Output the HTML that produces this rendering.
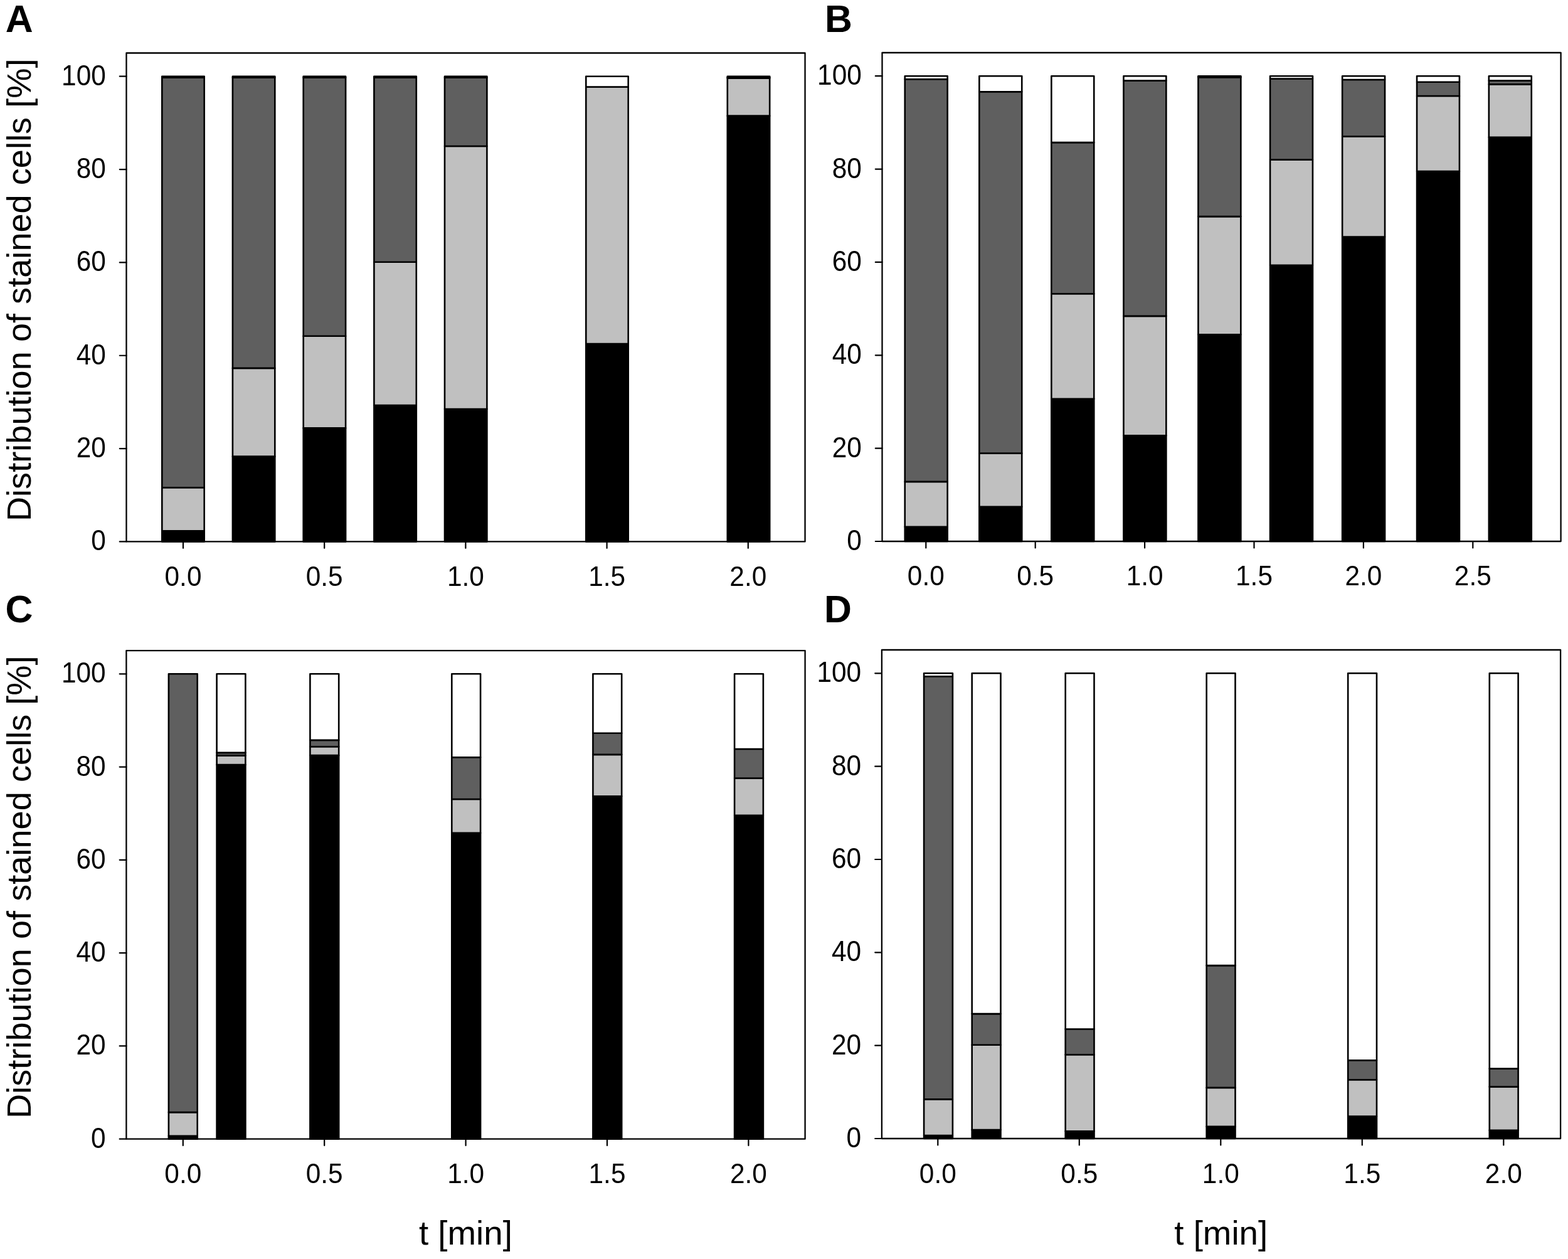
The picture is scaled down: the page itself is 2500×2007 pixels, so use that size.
<!DOCTYPE html><html><head><meta charset="utf-8"><style>html,body{margin:0;padding:0;background:#fff}svg{display:block}rect{stroke-linejoin:round}line{stroke-linecap:round}text{font-family:'Liberation Sans', Arial, sans-serif}</style></head><body>
<svg width="2500" height="2007" viewBox="0 0 2500 2007">
<rect width="2500" height="2007" fill="#fff"/>
<g>
<rect x="258.3" y="846.36" width="67.4" height="17.1" fill="#000" stroke="#000" stroke-width="2.6"/>
<rect x="258.3" y="777.18" width="67.4" height="69.17" fill="#c0c0c0" stroke="#000" stroke-width="2.6"/>
<rect x="258.3" y="123.65" width="67.4" height="653.53" fill="#5f5f5f" stroke="#000" stroke-width="2.6"/>
<rect x="258.3" y="121.7" width="67.4" height="1.95" fill="#fff" stroke="#000" stroke-width="2.6"/>
<rect x="370.9" y="727.67" width="67.4" height="135.78" fill="#000" stroke="#000" stroke-width="2.6"/>
<rect x="370.9" y="586.91" width="67.4" height="140.76" fill="#c0c0c0" stroke="#000" stroke-width="2.6"/>
<rect x="370.9" y="123.65" width="67.4" height="463.25" fill="#5f5f5f" stroke="#000" stroke-width="2.6"/>
<rect x="370.9" y="121.7" width="67.4" height="1.95" fill="#fff" stroke="#000" stroke-width="2.6"/>
<rect x="483.7" y="682.42" width="67.4" height="181.03" fill="#000" stroke="#000" stroke-width="2.6"/>
<rect x="483.7" y="535.72" width="67.4" height="146.69" fill="#c0c0c0" stroke="#000" stroke-width="2.6"/>
<rect x="483.7" y="123.65" width="67.4" height="412.07" fill="#5f5f5f" stroke="#000" stroke-width="2.6"/>
<rect x="483.7" y="121.7" width="67.4" height="1.95" fill="#fff" stroke="#000" stroke-width="2.6"/>
<rect x="596.4" y="646.07" width="67.4" height="217.38" fill="#000" stroke="#000" stroke-width="2.6"/>
<rect x="596.4" y="417.78" width="67.4" height="228.29" fill="#c0c0c0" stroke="#000" stroke-width="2.6"/>
<rect x="596.4" y="123.65" width="67.4" height="294.12" fill="#5f5f5f" stroke="#000" stroke-width="2.6"/>
<rect x="596.4" y="121.7" width="67.4" height="1.95" fill="#fff" stroke="#000" stroke-width="2.6"/>
<rect x="709" y="652" width="67.4" height="211.45" fill="#000" stroke="#000" stroke-width="2.6"/>
<rect x="709" y="233.07" width="67.4" height="418.93" fill="#c0c0c0" stroke="#000" stroke-width="2.6"/>
<rect x="709" y="123.65" width="67.4" height="109.42" fill="#5f5f5f" stroke="#000" stroke-width="2.6"/>
<rect x="709" y="121.7" width="67.4" height="1.95" fill="#fff" stroke="#000" stroke-width="2.6"/>
<rect x="934.3" y="548.15" width="67.4" height="315.3" fill="#000" stroke="#000" stroke-width="2.6"/>
<rect x="934.3" y="138.49" width="67.4" height="409.66" fill="#c0c0c0" stroke="#000" stroke-width="2.6"/>
<rect x="934.3" y="121.7" width="67.4" height="16.79" fill="#fff" stroke="#000" stroke-width="2.6"/>
<rect x="1159.8" y="184.67" width="67.4" height="678.78" fill="#000" stroke="#000" stroke-width="2.6"/>
<rect x="1159.8" y="124.77" width="67.4" height="59.9" fill="#c0c0c0" stroke="#000" stroke-width="2.6"/>
<rect x="1159.8" y="123.28" width="67.4" height="1.48" fill="#5f5f5f" stroke="#000" stroke-width="2.6"/>
<rect x="1159.8" y="121.7" width="67.4" height="1.58" fill="#fff" stroke="#000" stroke-width="2.6"/>
<rect x="201.5" y="84.5" width="1082.05" height="778.95" fill="none" stroke="#000" stroke-width="2.3" stroke-linejoin="round"/>
<line x1="190.8" y1="863.45" x2="201.5" y2="863.45" stroke="#000" stroke-width="2.2"/>
<text transform="translate(168.8,877.45) scale(1,1.07)" font-size="42.4" text-anchor="end">0</text>
<line x1="190.8" y1="715.1" x2="201.5" y2="715.1" stroke="#000" stroke-width="2.2"/>
<text transform="translate(168.8,729.1) scale(1,1.07)" font-size="42.4" text-anchor="end">20</text>
<line x1="190.8" y1="566.75" x2="201.5" y2="566.75" stroke="#000" stroke-width="2.2"/>
<text transform="translate(168.8,580.75) scale(1,1.07)" font-size="42.4" text-anchor="end">40</text>
<line x1="190.8" y1="418.4" x2="201.5" y2="418.4" stroke="#000" stroke-width="2.2"/>
<text transform="translate(168.8,432.4) scale(1,1.07)" font-size="42.4" text-anchor="end">60</text>
<line x1="190.8" y1="270.05" x2="201.5" y2="270.05" stroke="#000" stroke-width="2.2"/>
<text transform="translate(168.8,284.05) scale(1,1.07)" font-size="42.4" text-anchor="end">80</text>
<line x1="190.8" y1="121.7" x2="201.5" y2="121.7" stroke="#000" stroke-width="2.2"/>
<text transform="translate(168.8,135.7) scale(1,1.07)" font-size="42.4" text-anchor="end">100</text>
<line x1="292" y1="863.45" x2="292" y2="873.85" stroke="#000" stroke-width="2.2"/>
<text transform="translate(292,934.05) scale(1,1.045)" font-size="42.4" text-anchor="middle">0.0</text>
<line x1="517.2" y1="863.45" x2="517.2" y2="873.85" stroke="#000" stroke-width="2.2"/>
<text transform="translate(517.2,934.05) scale(1,1.045)" font-size="42.4" text-anchor="middle">0.5</text>
<line x1="742.4" y1="863.45" x2="742.4" y2="873.85" stroke="#000" stroke-width="2.2"/>
<text transform="translate(742.4,934.05) scale(1,1.045)" font-size="42.4" text-anchor="middle">1.0</text>
<line x1="967.6" y1="863.45" x2="967.6" y2="873.85" stroke="#000" stroke-width="2.2"/>
<text transform="translate(967.6,934.05) scale(1,1.045)" font-size="42.4" text-anchor="middle">1.5</text>
<line x1="1192.8" y1="863.45" x2="1192.8" y2="873.85" stroke="#000" stroke-width="2.2"/>
<text transform="translate(1192.8,934.05) scale(1,1.045)" font-size="42.4" text-anchor="middle">2.0</text>
</g>
<g>
<rect x="1442.75" y="839.68" width="67.9" height="23.32" fill="#000" stroke="#000" stroke-width="2.6"/>
<rect x="1442.75" y="767.91" width="67.9" height="71.77" fill="#c0c0c0" stroke="#000" stroke-width="2.6"/>
<rect x="1442.75" y="126.25" width="67.9" height="641.66" fill="#5f5f5f" stroke="#000" stroke-width="2.6"/>
<rect x="1442.75" y="121.2" width="67.9" height="5.05" fill="#fff" stroke="#000" stroke-width="2.6"/>
<rect x="1561.35" y="807.78" width="67.9" height="55.22" fill="#000" stroke="#000" stroke-width="2.6"/>
<rect x="1561.35" y="722.66" width="67.9" height="85.12" fill="#c0c0c0" stroke="#000" stroke-width="2.6"/>
<rect x="1561.35" y="146.28" width="67.9" height="576.38" fill="#5f5f5f" stroke="#000" stroke-width="2.6"/>
<rect x="1561.35" y="121.2" width="67.9" height="25.08" fill="#fff" stroke="#000" stroke-width="2.6"/>
<rect x="1676.35" y="635.68" width="67.9" height="227.32" fill="#000" stroke="#000" stroke-width="2.6"/>
<rect x="1676.35" y="468.22" width="67.9" height="167.46" fill="#c0c0c0" stroke="#000" stroke-width="2.6"/>
<rect x="1676.35" y="227.14" width="67.9" height="241.09" fill="#5f5f5f" stroke="#000" stroke-width="2.6"/>
<rect x="1676.35" y="121.2" width="67.9" height="105.94" fill="#fff" stroke="#000" stroke-width="2.6"/>
<rect x="1791.45" y="694.29" width="67.9" height="168.71" fill="#000" stroke="#000" stroke-width="2.6"/>
<rect x="1791.45" y="503.83" width="67.9" height="190.46" fill="#c0c0c0" stroke="#000" stroke-width="2.6"/>
<rect x="1791.45" y="128.48" width="67.9" height="375.35" fill="#5f5f5f" stroke="#000" stroke-width="2.6"/>
<rect x="1791.45" y="121.2" width="67.9" height="7.28" fill="#fff" stroke="#000" stroke-width="2.6"/>
<rect x="1910.45" y="533.32" width="67.9" height="329.68" fill="#000" stroke="#000" stroke-width="2.6"/>
<rect x="1910.45" y="345.08" width="67.9" height="188.23" fill="#c0c0c0" stroke="#000" stroke-width="2.6"/>
<rect x="1910.45" y="123.14" width="67.9" height="221.95" fill="#5f5f5f" stroke="#000" stroke-width="2.6"/>
<rect x="1910.45" y="121.2" width="67.9" height="1.94" fill="#fff" stroke="#000" stroke-width="2.6"/>
<rect x="2025.05" y="422.79" width="67.9" height="440.21" fill="#000" stroke="#000" stroke-width="2.6"/>
<rect x="2025.05" y="254.58" width="67.9" height="168.21" fill="#c0c0c0" stroke="#000" stroke-width="2.6"/>
<rect x="2025.05" y="125.51" width="67.9" height="129.07" fill="#5f5f5f" stroke="#000" stroke-width="2.6"/>
<rect x="2025.05" y="121.2" width="67.9" height="4.31" fill="#fff" stroke="#000" stroke-width="2.6"/>
<rect x="2140.15" y="377.54" width="67.9" height="485.46" fill="#000" stroke="#000" stroke-width="2.6"/>
<rect x="2140.15" y="217.49" width="67.9" height="160.05" fill="#c0c0c0" stroke="#000" stroke-width="2.6"/>
<rect x="2140.15" y="126.99" width="67.9" height="90.5" fill="#5f5f5f" stroke="#000" stroke-width="2.6"/>
<rect x="2140.15" y="121.2" width="67.9" height="5.79" fill="#fff" stroke="#000" stroke-width="2.6"/>
<rect x="2259.05" y="272.94" width="67.9" height="590.06" fill="#000" stroke="#000" stroke-width="2.6"/>
<rect x="2259.05" y="152.96" width="67.9" height="119.99" fill="#c0c0c0" stroke="#000" stroke-width="2.6"/>
<rect x="2259.05" y="130.7" width="67.9" height="22.25" fill="#5f5f5f" stroke="#000" stroke-width="2.6"/>
<rect x="2259.05" y="121.2" width="67.9" height="9.5" fill="#fff" stroke="#000" stroke-width="2.6"/>
<rect x="2373.85" y="218.79" width="67.9" height="644.21" fill="#000" stroke="#000" stroke-width="2.6"/>
<rect x="2373.85" y="134.41" width="67.9" height="84.38" fill="#c0c0c0" stroke="#000" stroke-width="2.6"/>
<rect x="2373.85" y="128.48" width="67.9" height="5.93" fill="#5f5f5f" stroke="#000" stroke-width="2.6"/>
<rect x="2373.85" y="121.2" width="67.9" height="7.28" fill="#fff" stroke="#000" stroke-width="2.6"/>
<rect x="1406.5" y="84" width="1082.1" height="779" fill="none" stroke="#000" stroke-width="2.3" stroke-linejoin="round"/>
<line x1="1395.8" y1="863" x2="1406.5" y2="863" stroke="#000" stroke-width="2.2"/>
<text transform="translate(1373.8,877) scale(1,1.07)" font-size="42.4" text-anchor="end">0</text>
<line x1="1395.8" y1="714.64" x2="1406.5" y2="714.64" stroke="#000" stroke-width="2.2"/>
<text transform="translate(1373.8,728.64) scale(1,1.07)" font-size="42.4" text-anchor="end">20</text>
<line x1="1395.8" y1="566.28" x2="1406.5" y2="566.28" stroke="#000" stroke-width="2.2"/>
<text transform="translate(1373.8,580.28) scale(1,1.07)" font-size="42.4" text-anchor="end">40</text>
<line x1="1395.8" y1="417.92" x2="1406.5" y2="417.92" stroke="#000" stroke-width="2.2"/>
<text transform="translate(1373.8,431.92) scale(1,1.07)" font-size="42.4" text-anchor="end">60</text>
<line x1="1395.8" y1="269.56" x2="1406.5" y2="269.56" stroke="#000" stroke-width="2.2"/>
<text transform="translate(1373.8,283.56) scale(1,1.07)" font-size="42.4" text-anchor="end">80</text>
<line x1="1395.8" y1="121.2" x2="1406.5" y2="121.2" stroke="#000" stroke-width="2.2"/>
<text transform="translate(1373.8,135.2) scale(1,1.07)" font-size="42.4" text-anchor="end">100</text>
<line x1="1476.3" y1="863" x2="1476.3" y2="873.4" stroke="#000" stroke-width="2.2"/>
<text transform="translate(1476.3,932.8) scale(1,1.045)" font-size="42.4" text-anchor="middle">0.0</text>
<line x1="1650.7" y1="863" x2="1650.7" y2="873.4" stroke="#000" stroke-width="2.2"/>
<text transform="translate(1650.7,932.8) scale(1,1.045)" font-size="42.4" text-anchor="middle">0.5</text>
<line x1="1825.1" y1="863" x2="1825.1" y2="873.4" stroke="#000" stroke-width="2.2"/>
<text transform="translate(1825.1,932.8) scale(1,1.045)" font-size="42.4" text-anchor="middle">1.0</text>
<line x1="1999.5" y1="863" x2="1999.5" y2="873.4" stroke="#000" stroke-width="2.2"/>
<text transform="translate(1999.5,932.8) scale(1,1.045)" font-size="42.4" text-anchor="middle">1.5</text>
<line x1="2173.9" y1="863" x2="2173.9" y2="873.4" stroke="#000" stroke-width="2.2"/>
<text transform="translate(2173.9,932.8) scale(1,1.045)" font-size="42.4" text-anchor="middle">2.0</text>
<line x1="2348.3" y1="863" x2="2348.3" y2="873.4" stroke="#000" stroke-width="2.2"/>
<text transform="translate(2348.3,932.8) scale(1,1.045)" font-size="42.4" text-anchor="middle">2.5</text>
</g>
<g>
<rect x="268.9" y="1810.72" width="45.8" height="4.98" fill="#000" stroke="#000" stroke-width="2.6"/>
<rect x="268.9" y="1773.13" width="45.8" height="37.59" fill="#c0c0c0" stroke="#000" stroke-width="2.6"/>
<rect x="268.9" y="1074.3" width="45.8" height="698.83" fill="#5f5f5f" stroke="#000" stroke-width="2.6"/>
<rect x="345.6" y="1218.98" width="45.8" height="596.72" fill="#000" stroke="#000" stroke-width="2.6"/>
<rect x="345.6" y="1204.35" width="45.8" height="14.63" fill="#c0c0c0" stroke="#000" stroke-width="2.6"/>
<rect x="345.6" y="1199.9" width="45.8" height="4.44" fill="#5f5f5f" stroke="#000" stroke-width="2.6"/>
<rect x="345.6" y="1074.3" width="45.8" height="125.6" fill="#fff" stroke="#000" stroke-width="2.6"/>
<rect x="494.4" y="1204.16" width="45.8" height="611.54" fill="#000" stroke="#000" stroke-width="2.6"/>
<rect x="494.4" y="1190.27" width="45.8" height="13.89" fill="#c0c0c0" stroke="#000" stroke-width="2.6"/>
<rect x="494.4" y="1179.91" width="45.8" height="10.37" fill="#5f5f5f" stroke="#000" stroke-width="2.6"/>
<rect x="494.4" y="1074.3" width="45.8" height="105.61" fill="#fff" stroke="#000" stroke-width="2.6"/>
<rect x="720.3" y="1327.84" width="45.8" height="487.86" fill="#000" stroke="#000" stroke-width="2.6"/>
<rect x="720.3" y="1273.96" width="45.8" height="53.88" fill="#c0c0c0" stroke="#000" stroke-width="2.6"/>
<rect x="720.3" y="1207.31" width="45.8" height="66.65" fill="#5f5f5f" stroke="#000" stroke-width="2.6"/>
<rect x="720.3" y="1074.3" width="45.8" height="133.01" fill="#fff" stroke="#000" stroke-width="2.6"/>
<rect x="945.4" y="1269.34" width="45.8" height="546.36" fill="#000" stroke="#000" stroke-width="2.6"/>
<rect x="945.4" y="1202.86" width="45.8" height="66.47" fill="#c0c0c0" stroke="#000" stroke-width="2.6"/>
<rect x="945.4" y="1168.8" width="45.8" height="34.07" fill="#5f5f5f" stroke="#000" stroke-width="2.6"/>
<rect x="945.4" y="1074.3" width="45.8" height="94.5" fill="#fff" stroke="#000" stroke-width="2.6"/>
<rect x="1171.1" y="1299.7" width="45.8" height="516" fill="#000" stroke="#000" stroke-width="2.6"/>
<rect x="1171.1" y="1240.63" width="45.8" height="59.07" fill="#c0c0c0" stroke="#000" stroke-width="2.6"/>
<rect x="1171.1" y="1193.98" width="45.8" height="46.66" fill="#5f5f5f" stroke="#000" stroke-width="2.6"/>
<rect x="1171.1" y="1074.3" width="45.8" height="119.68" fill="#fff" stroke="#000" stroke-width="2.6"/>
<rect x="201.4" y="1037.1" width="1082.2" height="778.6" fill="none" stroke="#000" stroke-width="2.3" stroke-linejoin="round"/>
<line x1="190.7" y1="1815.7" x2="201.4" y2="1815.7" stroke="#000" stroke-width="2.2"/>
<text transform="translate(168.7,1829.7) scale(1,1.07)" font-size="42.4" text-anchor="end">0</text>
<line x1="190.7" y1="1667.42" x2="201.4" y2="1667.42" stroke="#000" stroke-width="2.2"/>
<text transform="translate(168.7,1681.42) scale(1,1.07)" font-size="42.4" text-anchor="end">20</text>
<line x1="190.7" y1="1519.14" x2="201.4" y2="1519.14" stroke="#000" stroke-width="2.2"/>
<text transform="translate(168.7,1533.14) scale(1,1.07)" font-size="42.4" text-anchor="end">40</text>
<line x1="190.7" y1="1370.86" x2="201.4" y2="1370.86" stroke="#000" stroke-width="2.2"/>
<text transform="translate(168.7,1384.86) scale(1,1.07)" font-size="42.4" text-anchor="end">60</text>
<line x1="190.7" y1="1222.58" x2="201.4" y2="1222.58" stroke="#000" stroke-width="2.2"/>
<text transform="translate(168.7,1236.58) scale(1,1.07)" font-size="42.4" text-anchor="end">80</text>
<line x1="190.7" y1="1074.3" x2="201.4" y2="1074.3" stroke="#000" stroke-width="2.2"/>
<text transform="translate(168.7,1088.3) scale(1,1.07)" font-size="42.4" text-anchor="end">100</text>
<line x1="291.8" y1="1815.7" x2="291.8" y2="1826.1" stroke="#000" stroke-width="2.2"/>
<text transform="translate(291.8,1886.3) scale(1,1.045)" font-size="42.4" text-anchor="middle">0.0</text>
<line x1="517.2" y1="1815.7" x2="517.2" y2="1826.1" stroke="#000" stroke-width="2.2"/>
<text transform="translate(517.2,1886.3) scale(1,1.045)" font-size="42.4" text-anchor="middle">0.5</text>
<line x1="742.6" y1="1815.7" x2="742.6" y2="1826.1" stroke="#000" stroke-width="2.2"/>
<text transform="translate(742.6,1886.3) scale(1,1.045)" font-size="42.4" text-anchor="middle">1.0</text>
<line x1="968" y1="1815.7" x2="968" y2="1826.1" stroke="#000" stroke-width="2.2"/>
<text transform="translate(968,1886.3) scale(1,1.045)" font-size="42.4" text-anchor="middle">1.5</text>
<line x1="1193.4" y1="1815.7" x2="1193.4" y2="1826.1" stroke="#000" stroke-width="2.2"/>
<text transform="translate(1193.4,1886.3) scale(1,1.045)" font-size="42.4" text-anchor="middle">2.0</text>
</g>
<g>
<rect x="1473.1" y="1809.98" width="45.8" height="5.02" fill="#000" stroke="#000" stroke-width="2.6"/>
<rect x="1473.1" y="1752.39" width="45.8" height="57.59" fill="#c0c0c0" stroke="#000" stroke-width="2.6"/>
<rect x="1473.1" y="1078.22" width="45.8" height="674.17" fill="#5f5f5f" stroke="#000" stroke-width="2.6"/>
<rect x="1473.1" y="1073.3" width="45.8" height="4.92" fill="#fff" stroke="#000" stroke-width="2.6"/>
<rect x="1549.7" y="1801.09" width="45.8" height="13.91" fill="#000" stroke="#000" stroke-width="2.6"/>
<rect x="1549.7" y="1665.74" width="45.8" height="135.35" fill="#c0c0c0" stroke="#000" stroke-width="2.6"/>
<rect x="1549.7" y="1616.12" width="45.8" height="49.62" fill="#5f5f5f" stroke="#000" stroke-width="2.6"/>
<rect x="1549.7" y="1073.3" width="45.8" height="542.82" fill="#fff" stroke="#000" stroke-width="2.6"/>
<rect x="1698.7" y="1803.31" width="45.8" height="11.69" fill="#000" stroke="#000" stroke-width="2.6"/>
<rect x="1698.7" y="1681.29" width="45.8" height="122.02" fill="#c0c0c0" stroke="#000" stroke-width="2.6"/>
<rect x="1698.7" y="1640.56" width="45.8" height="40.73" fill="#5f5f5f" stroke="#000" stroke-width="2.6"/>
<rect x="1698.7" y="1073.3" width="45.8" height="567.26" fill="#fff" stroke="#000" stroke-width="2.6"/>
<rect x="1923.7" y="1795.9" width="45.8" height="19.1" fill="#000" stroke="#000" stroke-width="2.6"/>
<rect x="1923.7" y="1733.87" width="45.8" height="62.03" fill="#c0c0c0" stroke="#000" stroke-width="2.6"/>
<rect x="1923.7" y="1539.1" width="45.8" height="194.78" fill="#5f5f5f" stroke="#000" stroke-width="2.6"/>
<rect x="1923.7" y="1073.3" width="45.8" height="465.8" fill="#fff" stroke="#000" stroke-width="2.6"/>
<rect x="2149.2" y="1779.61" width="45.8" height="35.39" fill="#000" stroke="#000" stroke-width="2.6"/>
<rect x="2149.2" y="1721.28" width="45.8" height="58.33" fill="#c0c0c0" stroke="#000" stroke-width="2.6"/>
<rect x="2149.2" y="1690.18" width="45.8" height="31.11" fill="#5f5f5f" stroke="#000" stroke-width="2.6"/>
<rect x="2149.2" y="1073.3" width="45.8" height="616.88" fill="#fff" stroke="#000" stroke-width="2.6"/>
<rect x="2374.8" y="1801.83" width="45.8" height="13.17" fill="#000" stroke="#000" stroke-width="2.6"/>
<rect x="2374.8" y="1732.39" width="45.8" height="69.44" fill="#c0c0c0" stroke="#000" stroke-width="2.6"/>
<rect x="2374.8" y="1703.51" width="45.8" height="28.88" fill="#5f5f5f" stroke="#000" stroke-width="2.6"/>
<rect x="2374.8" y="1073.3" width="45.8" height="630.21" fill="#fff" stroke="#000" stroke-width="2.6"/>
<rect x="1405.9" y="1036" width="1082.2" height="779" fill="none" stroke="#000" stroke-width="2.3" stroke-linejoin="round"/>
<line x1="1395.2" y1="1815" x2="1405.9" y2="1815" stroke="#000" stroke-width="2.2"/>
<text transform="translate(1373.2,1829) scale(1,1.07)" font-size="42.4" text-anchor="end">0</text>
<line x1="1395.2" y1="1666.66" x2="1405.9" y2="1666.66" stroke="#000" stroke-width="2.2"/>
<text transform="translate(1373.2,1680.66) scale(1,1.07)" font-size="42.4" text-anchor="end">20</text>
<line x1="1395.2" y1="1518.32" x2="1405.9" y2="1518.32" stroke="#000" stroke-width="2.2"/>
<text transform="translate(1373.2,1532.32) scale(1,1.07)" font-size="42.4" text-anchor="end">40</text>
<line x1="1395.2" y1="1369.98" x2="1405.9" y2="1369.98" stroke="#000" stroke-width="2.2"/>
<text transform="translate(1373.2,1383.98) scale(1,1.07)" font-size="42.4" text-anchor="end">60</text>
<line x1="1395.2" y1="1221.64" x2="1405.9" y2="1221.64" stroke="#000" stroke-width="2.2"/>
<text transform="translate(1373.2,1235.64) scale(1,1.07)" font-size="42.4" text-anchor="end">80</text>
<line x1="1395.2" y1="1073.3" x2="1405.9" y2="1073.3" stroke="#000" stroke-width="2.2"/>
<text transform="translate(1373.2,1087.3) scale(1,1.07)" font-size="42.4" text-anchor="end">100</text>
<line x1="1495.3" y1="1815" x2="1495.3" y2="1825.4" stroke="#000" stroke-width="2.2"/>
<text transform="translate(1495.3,1885.6) scale(1,1.045)" font-size="42.4" text-anchor="middle">0.0</text>
<line x1="1720.8" y1="1815" x2="1720.8" y2="1825.4" stroke="#000" stroke-width="2.2"/>
<text transform="translate(1720.8,1885.6) scale(1,1.045)" font-size="42.4" text-anchor="middle">0.5</text>
<line x1="1946.3" y1="1815" x2="1946.3" y2="1825.4" stroke="#000" stroke-width="2.2"/>
<text transform="translate(1946.3,1885.6) scale(1,1.045)" font-size="42.4" text-anchor="middle">1.0</text>
<line x1="2171.8" y1="1815" x2="2171.8" y2="1825.4" stroke="#000" stroke-width="2.2"/>
<text transform="translate(2171.8,1885.6) scale(1,1.045)" font-size="42.4" text-anchor="middle">1.5</text>
<line x1="2397.3" y1="1815" x2="2397.3" y2="1825.4" stroke="#000" stroke-width="2.2"/>
<text transform="translate(2397.3,1885.6) scale(1,1.045)" font-size="42.4" text-anchor="middle">2.0</text>
</g>
<text transform="translate(49.0,462.3) rotate(-90)" font-size="54.16" text-anchor="middle">Distribution of stained cells [%]</text>
<text transform="translate(49.0,1414.2) rotate(-90)" font-size="54.16" text-anchor="middle">Distribution of stained cells [%]</text>
<text transform="translate(742.4,1984.0) scale(1,0.965)" font-size="54.7" text-anchor="middle">t [min]</text>
<text transform="translate(1946.7,1984.0) scale(1,0.965)" font-size="54.7" text-anchor="middle">t [min]</text>
<text x="8.7" y="50.8" font-size="60.8" font-weight="bold">A</text>
<text x="1315" y="50.8" font-size="60.8" font-weight="bold">B</text>
<text x="8.6" y="992" font-size="60.8" font-weight="bold">C</text>
<text x="1314" y="991.5" font-size="60.8" font-weight="bold">D</text>
</svg></body></html>
